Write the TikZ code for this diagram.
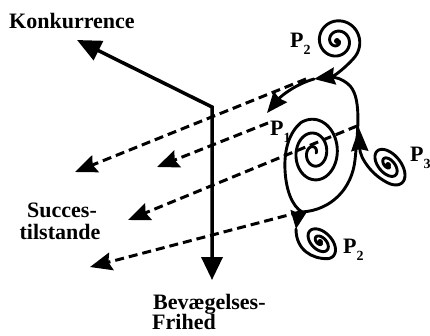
\documentclass[tikz,border=0pt]{standalone}
\usepackage{fontspec}
\setmainfont{Liberation Serif}
\usetikzlibrary{arrows.meta}
\newcommand{\Psub}[1]{P\raisebox{-7pt}{\fontsize{14}{14}\selectfont #1}}
\begin{document}
\begin{tikzpicture}[x=1pt,y=-1pt,
  axis/.style={line width=3.5pt, line join=miter},
  dsh/.style={line width=3pt, dash pattern=on 9pt off 5pt, -{Stealth[length=22pt,width=18pt,inset=3pt]}},
  crv/.style={line width=2.9pt, line cap=round},
  ctip/.style={-{Stealth[length=21pt,width=17pt,inset=2pt]}},
  lbl/.style={font=\fontsize{22}{24}\selectfont\bfseries, inner sep=0pt}]
\path[use as bounding box, fill=white] (0,0) rectangle (430,335);

% key points
\coordinate (C) at (212,107);
\coordinate (K) at (77,40);
\coordinate (V) at (212,280);
\coordinate (T) at (314,79);
\coordinate (P1tip) at (267,113);
\coordinate (B) at (302,212);
\coordinate (M) at (296,229);
\coordinate (cusp) at (359,128);
\coordinate (d1s) at (306,79);  \coordinate (d1e) at (75,172);
\coordinate (d2s) at (268,123); \coordinate (d2e) at (157,167);
\coordinate (d3s) at (357,126); \coordinate (d3e) at (128,220);
\coordinate (d4s) at (300,212); \coordinate (d4e) at (90,267);

% axes
\draw[axis, {Triangle[length=24pt,width=21pt]}-{Triangle[length=23pt,width=21pt]}] (K) -- (C) -- (V);

% dashed projections
\draw[dsh] (d1s) -- (d1e);
\draw[dsh] (d2s) -- (d2e);
\draw[dsh] (d3s) -- (d3e);
\draw[dsh] (d4s) -- (d4e);

% upper P2 spiral and its tail into T
\draw[crv, ctip] plot[domain=0:765, samples=150, variable=\q]
  ({337+(2+22*(\q/765))*cos(\q)}, {41+(2+22*(\q/765))*sin(\q)})
  .. controls (347,66) and (335,76) .. (T);
\fill (337,41) circle (3pt);

% branch from T towards P1
\draw[crv, ctip] (T) .. controls (296,84) and (281,96) .. (P1tip);

% right side of the big loop
\draw[crv] (B) .. controls (332,210) and (352,188) .. (355,160)
  .. controls (358,130) and (362,95) .. (348,84)
  .. controls (342,79) and (336,77) .. (330,77);

% P1 spiral and outer ring down to B
\draw[crv] plot[domain=0:840, samples=180, variable=\q]
  ({314+(2+24.8*(\q/840))*cos(\q)}, {153-1.3*(2+24.8*(\q/840))*sin(\q)})
  .. controls (289,133) and (284,150) .. (285,170)
  .. controls (286,190) and (292,206) .. (B);

% P3 spiral and its tail up to the cusp
\draw[crv, -{Stealth[length=23pt,width=17pt,inset=2pt]}] plot[domain=0:770, samples=150, variable=\q]
  ({388+(0.1+0.9*(\q/770))*(24*cos(\q)*cos(50)-14*sin(\q)*sin(50))},
   {165+(0.1+0.9*(\q/770))*(24*cos(\q)*sin(50)+14*sin(\q)*cos(50))})
  .. controls (372,176) and (360,158) .. (cusp);
\fill (388,165) circle (3pt);

% lower P2 spiral and tail from B
\draw[crv] plot[domain=0:750, samples=150, variable=\q]
  ({320+(0.1+0.9*(\q/750))*(20*cos(\q)*cos(45)-12.5*sin(\q)*sin(45))},
   {242+(0.1+0.9*(\q/750))*(20*cos(\q)*sin(45)+12.5*sin(\q)*cos(45))})
  .. controls (312,259) and (296,250) .. (M);
\draw[crv, -{Stealth[length=18pt,width=16pt,inset=2pt]}] (B) .. controls (300,217) and (297,222) .. (M);
\fill (320,242) circle (3pt);

% labels
\node[lbl, anchor=base west] (konk) at (9,28) {Konkurrence};
\node[lbl, anchor=base] (succ) at (62,217) {Succes-};
\node[lbl, anchor=base] (tils) at (60,239) {tilstande};
\node[lbl, anchor=base west] (bev) at (153,309) {Bevægelses-};
\node[lbl, anchor=base west] (fri) at (152,329) {Frihed};
\node[lbl, anchor=base west] (lpa) at (290,47) {\Psub{2}};
\node[lbl, anchor=base west] (lpb) at (270,135) {\Psub{1}};
\node[lbl, anchor=base west] (lpc) at (410,161) {\Psub{3}};
\node[lbl, anchor=base west] (lpd) at (343,253) {\Psub{2}};
\end{tikzpicture}
\end{document}
